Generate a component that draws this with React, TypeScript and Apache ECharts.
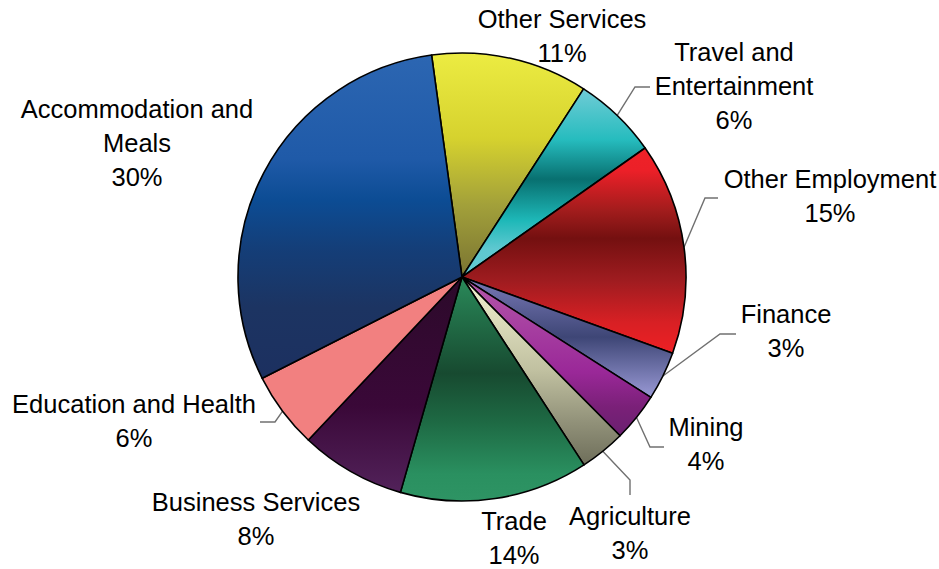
import React, { useEffect, useRef } from 'react';
import * as echarts from 'echarts';

// ---- data ----
const categories = [
  'Other Services',
  'Travel and Entertainment',
  'Other Employment',
  'Finance',
  'Mining',
  'Agriculture',
  'Trade',
  'Business Services',
  'Education and Health',
  'Accommodation and Meals',
];
const labelTexts = [
  'Other Services',
  'Travel and\nEntertainment',
  'Other Employment',
  'Finance',
  'Mining',
  'Agriculture',
  'Trade',
  'Business Services',
  'Education and Health',
  'Accommodation and\nMeals',
];
const shares = [11.3, 6.1, 15.3, 3.5, 3.5, 3.3, 13.6, 7.6, 5.5, 30.3];
const shownPercents = [11, 6, 15, 3, 4, 3, 14, 8, 6, 30];

// ---- styling / layout ----
const gradientStops: [number, string][][] = [
  [[0, '#ecec42'], [0.38, '#d6d22e'], [0.68, '#a2a03a'], [1, '#7a7432']],
  [[0, '#70ccd6'], [0.27, '#26bcbe'], [0.48, '#087070'], [0.7, '#1eb8b8'], [0.85, '#5ec8d0'], [1, '#64cad2']],
  [[0, '#ee2228'], [0.11, '#ec2028'], [0.31, '#a01c1c'], [0.44, '#741010'], [0.65, '#a01c20'], [0.85, '#d82024'], [1, '#ee2024']],
  [[0, '#7a7ab8'], [0.5, '#3e4676'], [1, '#9a9ad6']],
  [[0, '#b458aa'], [0.6, '#9a2898'], [0.82, '#7a2078'], [1, '#6a2070']],
  [[0, '#f4f4d2'], [0.5, '#c0c0a0'], [0.78, '#909078'], [1, '#6e6e5a']],
  [[0, '#2a8a5a'], [0.43, '#174a30'], [0.65, '#1e6a44'], [0.88, '#2a9060'], [1, '#2e9464']],
  [[0, '#2c0a2a'], [0.6, '#3a0838'], [1, '#52225a']],
  [[0, '#f28080'], [1, '#f28080']],
  [[0, '#2c66b2'], [0.32, '#1f5aa8'], [0.45, '#0c4c94'], [0.6, '#143e78'], [0.78, '#1c3462'], [1, '#1c3060']],
];

const CX = 462;
const CY = 277;
const R = 224;
const START_ANGLE = 97.8;

const labelPlacement: { x: number; y: number; line?: number[][] }[] = [
  { x: 562, y: 36 },
  { x: 734, y: 86, line: [[635, 87], [650, 87]] },
  { x: 830, y: 196, line: [[705, 198], [718, 198]] },
  { x: 786, y: 331, line: [[720, 334], [736, 334]] },
  { x: 706, y: 444, line: [[650, 447], [664, 447]] },
  { x: 630, y: 533, line: [[630, 480], [630, 495]] },
  { x: 514, y: 538 },
  { x: 256, y: 519 },
  { x: 134, y: 421, line: [[275, 422], [260, 422]] },
  { x: 137, y: 143 },
];

export default function App() {
  const ref = useRef<HTMLDivElement>(null);

  useEffect(() => {
    if (!ref.current) return;
    const chart = echarts.init(ref.current, undefined, { renderer: 'svg' });
    const total = shares.reduce((a, b) => a + b, 0);
    const cum: number[] = [];
    let acc = 0;
    shares.forEach((v) => {
      cum.push(acc);
      acc += v;
    });

    const data = categories.map((name, i) => ({
      name,
      value: shares[i],
      itemStyle: {
        color: new echarts.graphic.LinearGradient(
          0, 0, 0, 1,
          gradientStops[i].map(([offset, color]) => ({ offset, color }))
        ),
      },
      label: {
        formatter: () => `${labelTexts[i]}\n${shownPercents[i]}%`,
      },
      labelLine: { show: !!labelPlacement[i].line },
    }));

    chart.setOption({
      animation: false,
      backgroundColor: '#ffffff',
      series: [
        {
          type: 'pie',
          center: [CX, CY],
          radius: R,
          startAngle: START_ANGLE,
          clockwise: true,
          avoidLabelOverlap: false,
          data,
          itemStyle: { borderColor: '#000000', borderWidth: 1.6 },
          label: {
            show: true,
            position: 'outside',
            color: '#000000',
            fontFamily: '"Liberation Sans", Arial, sans-serif',
            fontSize: 25.5,
            lineHeight: 34,
            align: 'center',
          },
          labelLine: {
            show: true,
            lineStyle: { color: '#707070', width: 1.4 },
          },
          emphasis: { disabled: true },
          labelLayout: (params: any) => {
            const i = params.dataIndex;
            const p = labelPlacement[i];
            const mid = START_ANGLE - ((cum[i] + shares[i] / 2) / total) * 360;
            const rad = (mid * Math.PI) / 180;
            const edge = [CX + R * Math.cos(rad), CY - R * Math.sin(rad)];
            const out: any = {
              x: p.x,
              y: p.y,
              align: 'center',
              verticalAlign: 'middle',
            };
            if (p.line) out.labelLinePoints = [edge, p.line[0], p.line[1]];
            return out;
          },
        },
      ],
    });
    return () => chart.dispose();
  }, []);

  return (
    <div
      ref={ref}
      style={{ position: 'fixed', left: 0, top: 0, width: 939, height: 569, background: '#fff' }}
    />
  );
}
